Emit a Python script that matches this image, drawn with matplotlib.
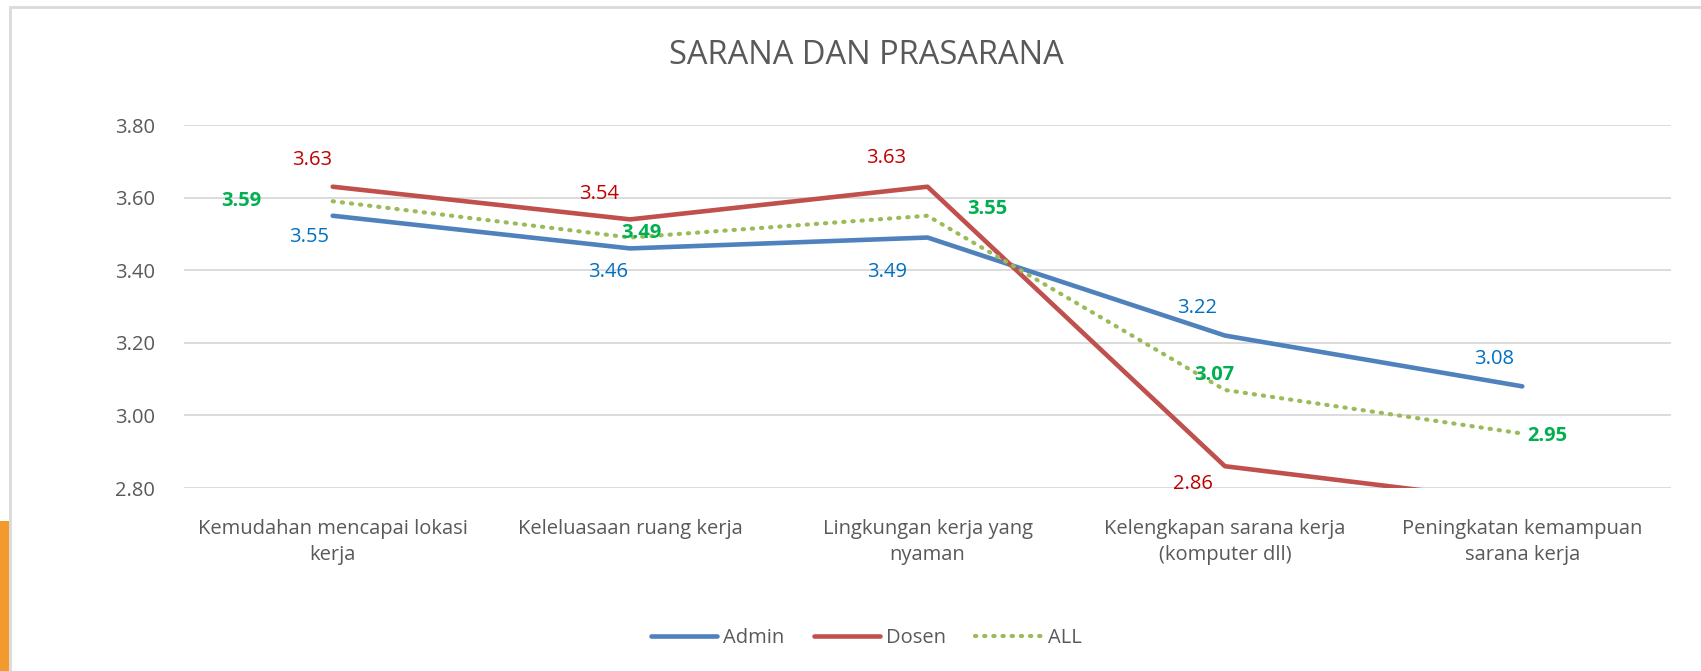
import matplotlib
matplotlib.use("Agg")
import matplotlib.pyplot as plt
from matplotlib.patches import Rectangle

plt.rcParams['font.family'] = ['Open Sans', 'DejaVu Sans']

categories = ["Kemudahan mencapai lokasi\nkerja", "Keleluasaan ruang kerja",
              "Lingkungan kerja yang\nnyaman", "Kelengkapan sarana kerja\n(komputer dll)",
              "Peningkatan kemampuan\nsarana kerja"]
admin = [3.55, 3.46, 3.49, 3.22, 3.08]
dosen = [3.63, 3.54, 3.63, 2.86, 2.76]
all_ = [3.59, 3.49, 3.55, 3.07, 2.95]
yticks = [2.80, 3.00, 3.20, 3.40, 3.60, 3.80]

# label offsets in points (dx, dy)
admin_off = [(-17, -15), (-16, -17), (-29, -25), (-20, 20), (-20, 20)]
dosen_off = [(-15, 19), (-22, 18), (-30, 21), (-23, -13)]
all_off = [(-66, 0), (8, 3), (43, 5), (-8, 11), (18, -2)]

fs = 14.5
fig = plt.figure(figsize=(17.01, 6.71), dpi=100)
# chart frame and a bit of the slide background at the left edge
fig.patches.append(Rectangle((0, 0), 9 / 1701, 150 / 671, transform=fig.transFigure,
                             facecolor='#f39a2c', edgecolor='none'))
fig.patches.append(Rectangle((0.006, -0.1), 1.1, 1.089, transform=fig.transFigure,
                             fill=False, edgecolor='#d9d9d9', linewidth=2))
ax = fig.add_axes([184 / 1701, 1 - 488 / 671, (1671 - 184) / 1701, (488 - 125) / 671])

x = range(len(categories))
ax.plot(x, admin, color='#4f81bd', lw=3.3, solid_capstyle='round', label='Admin', zorder=3)
ax.plot(x, dosen, color='#c0504d', lw=3.3, solid_capstyle='round', label='Dosen', zorder=3)
ax.plot(x, all_, color='#9bbb59', lw=3.0, linestyle=(0, (0.3, 1.9)), dash_capstyle='round',
        label='ALL', zorder=4)

for i, v in enumerate(admin):
    ax.annotate(f"{v:.2f}", (i, v), xytext=admin_off[i], textcoords='offset points',
                ha='center', va='center', color='#0070c0', fontsize=fs)
for i, v in enumerate(dosen[:4]):
    ax.annotate(f"{v:.2f}", (i, v), xytext=dosen_off[i], textcoords='offset points',
                ha='center', va='center', color='#c00000', fontsize=fs)
for i, v in enumerate(all_):
    ax.annotate(f"{v:.2f}", (i, v), xytext=all_off[i], textcoords='offset points',
                ha='center', va='center', color='#00b050', fontsize=fs, fontweight='bold',
                zorder=5)

ax.set_xlim(-0.5, 4.5)
ax.set_ylim(2.80, 3.80)
ax.set_yticks(yticks)
ax.set_yticklabels([f"{t:.2f}" for t in yticks])
ax.set_xticks(list(x))
ax.set_xticklabels(categories, linespacing=1.4)
ax.grid(axis='y', color='#d9d9d9', lw=1.3)
ax.set_axisbelow(True)
for s in ax.spines.values():
    s.set_visible(False)
ax.tick_params(length=0, labelsize=fs, colors='#595959')
ax.tick_params(axis='y', pad=21)
ax.tick_params(axis='x', pad=22)

fig.text(866 / 1701, 1 - 55 / 671, "SARANA DAN PRASARANA", ha='center', va='center',
         fontsize=23.5, color='#595959')

fig.legend(loc='center', bbox_to_anchor=(866 / 1701, 1 - 638 / 671), ncol=3, frameon=False,
           fontsize=fs, labelcolor='#595959', handlelength=3.3, columnspacing=1.45,
           handletextpad=0.3)

fig.savefig("out.png", dpi=100)
